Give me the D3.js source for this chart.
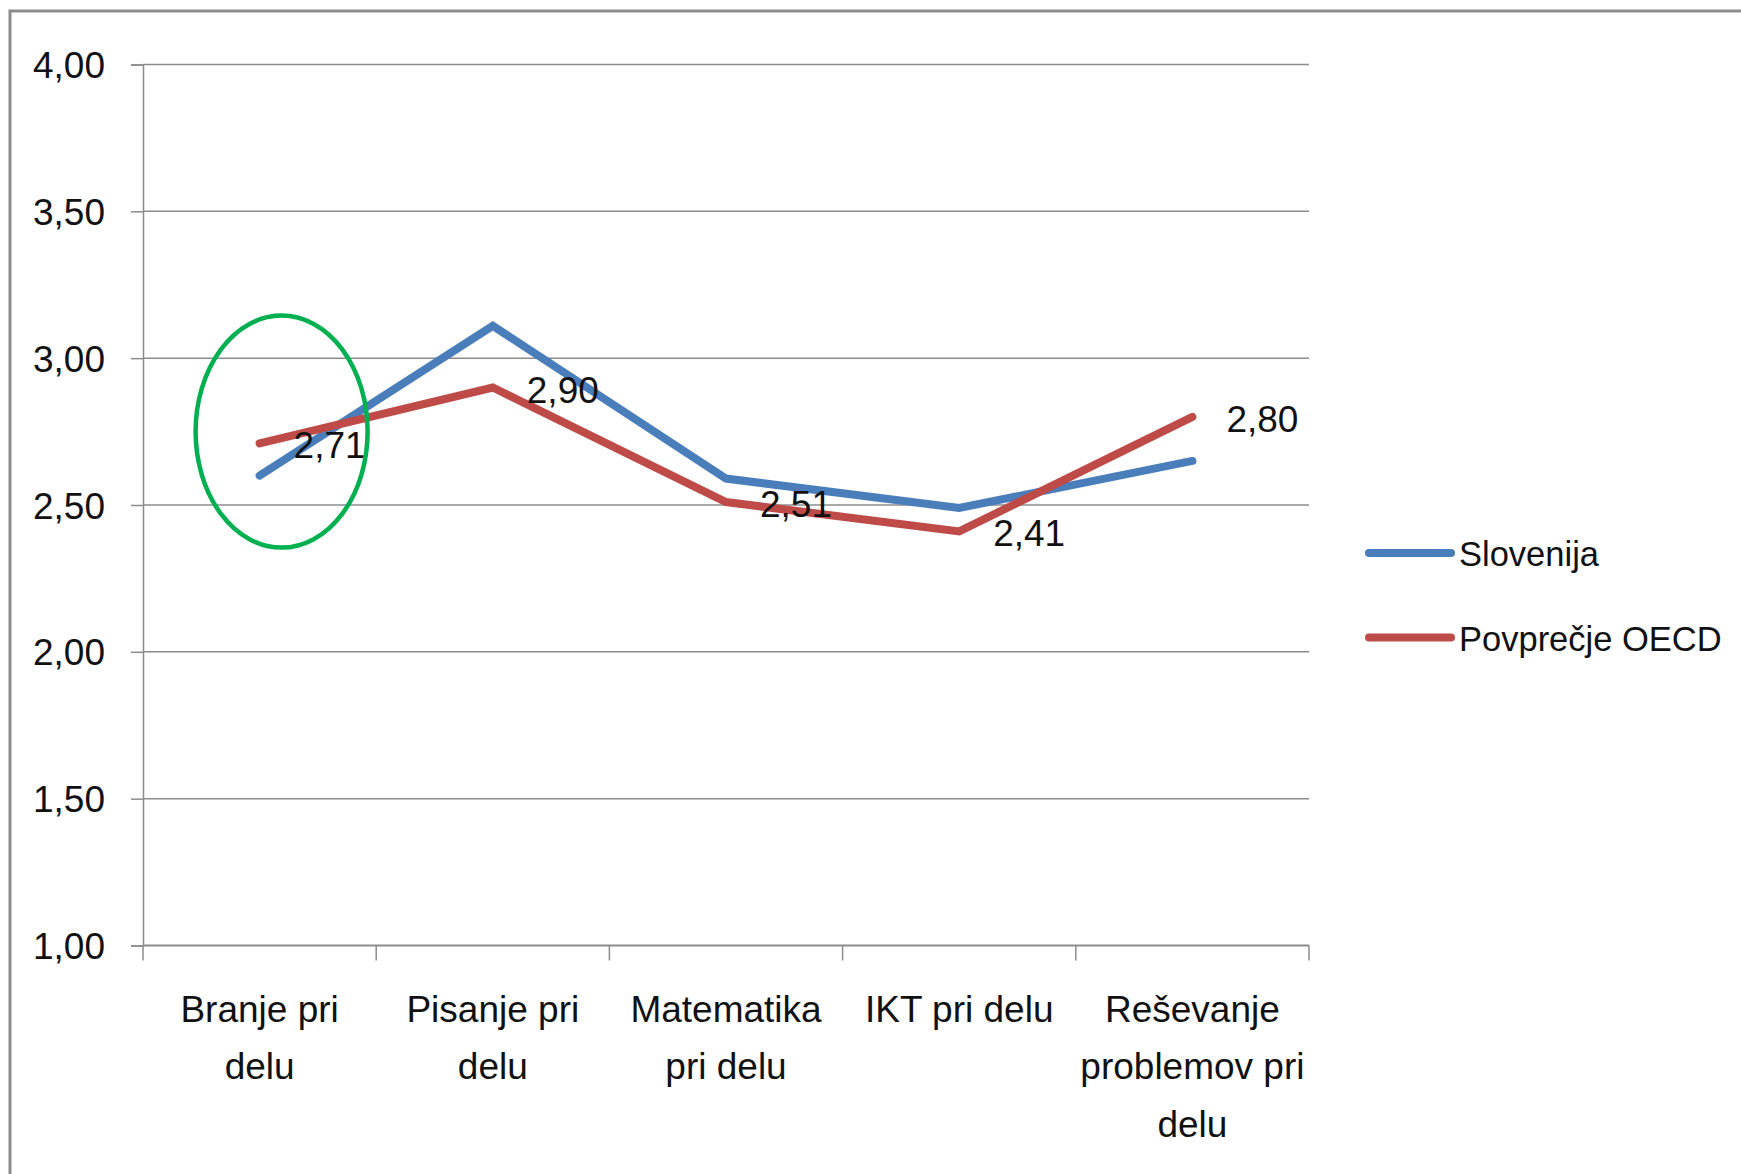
<!DOCTYPE html>
<html>
<head>
<meta charset="utf-8">
<script src="https://cdn.jsdelivr.net/npm/d3@7"></script>
<style>
  body { margin: 0; background: #fff; }
  svg text { font-family: "Liberation Sans", Arial, sans-serif; fill: #111; }
</style>
</head>
<body>
<svg id="chart" width="1741" height="1174"></svg>
<script>
// data
var categories = ["Branje pri delu", "Pisanje pri delu", "Matematika pri delu", "IKT pri delu", "Reševanje problemov pri delu"];
var categoryLines = [["Branje pri", "delu"], ["Pisanje pri", "delu"], ["Matematika", "pri delu"], ["IKT pri delu"], ["Reševanje", "problemov pri", "delu"]];
var slovenija = [2.60, 3.11, 2.59, 2.49, 2.65];
var oecd = [2.71, 2.90, 2.51, 2.41, 2.80];
var seriesNames = ["Slovenija", "Povprečje OECD"];
var yTicks = [1.00, 1.50, 2.00, 2.50, 3.00, 3.50, 4.00];

var svg = d3.select("#chart");
var fontSize = 37;

var locale = d3.formatLocale({ decimal: ",", thousands: ".", grouping: [3], currency: ["", " €"] });
var fmt = locale.format(".2f");

var plotLeft = 143, plotRight = 1309, plotTop = 64.5, plotBottom = 945.5;

var x = d3.scaleBand().domain(categories).range([plotLeft, plotRight]).padding(0);
var y = d3.scaleLinear().domain([1, 4]).range([plotBottom, plotTop]);

var colors = { "Slovenija": "#4a7ebb", "Povprečje OECD": "#be4b48" };

// outer frame
svg.append("rect")
    .attr("x", 10).attr("y", 11)
    .attr("width", 1800).attr("height", 1300)
    .attr("fill", "none")
    .attr("stroke", "#8c8c8c")
    .attr("stroke-width", 3);

// gridlines
svg.append("g")
    .selectAll("line")
    .data(yTicks)
    .enter().append("line")
    .attr("x1", plotLeft).attr("x2", plotRight)
    .attr("y1", function (d) { return y(d); })
    .attr("y2", function (d) { return y(d); })
    .attr("stroke", "#8c8c8c")
    .attr("stroke-width", function (d) { return d === 1 ? 2.2 : 1.5; });

// y axis
var yAxis = svg.append("g")
    .attr("transform", "translate(" + plotLeft + ",0)")
    .call(d3.axisLeft(y).tickValues(yTicks).tickSize(12).tickFormat(fmt).tickPadding(26));
yAxis.attr("font-family", null).attr("font-size", null);
yAxis.select(".domain").attr("stroke", "#8c8c8c").attr("stroke-width", 1.5);
yAxis.selectAll(".tick line").attr("stroke", "#8c8c8c").attr("stroke-width", 1.5);
yAxis.selectAll(".tick text")
    .attr("font-size", fontSize)
    .attr("dy", null)
    .attr("y", 13)
    .attr("fill", "#111");

// x axis ticks at band edges
var edges = categories.map(function (c) { return x(c); }).concat([plotRight]);
svg.append("g")
    .selectAll("line")
    .data(edges)
    .enter().append("line")
    .attr("x1", function (d) { return d; })
    .attr("x2", function (d) { return d; })
    .attr("y1", plotBottom)
    .attr("y2", plotBottom + 15)
    .attr("stroke", "#8c8c8c")
    .attr("stroke-width", 1.5);

// category labels
var catG = svg.append("g")
    .selectAll("text")
    .data(categories)
    .enter().append("text")
    .attr("text-anchor", "middle")
    .attr("font-size", fontSize)
    .attr("transform", function (d) { return "translate(" + (x(d) + x.bandwidth() / 2) + "," + (plotBottom + 76) + ")"; });
catG.each(function (d, i) {
    var t = d3.select(this);
    categoryLines[i].forEach(function (line, j) {
        t.append("tspan").attr("x", 0).attr("y", j * 57.5).text(line);
    });
});

// lines
var line = d3.line()
    .x(function (d, i) { return x(categories[i]) + x.bandwidth() / 2; })
    .y(function (d) { return y(d); });

[slovenija, oecd].forEach(function (vals, k) {
    svg.append("path")
        .datum(vals)
        .attr("d", line)
        .attr("fill", "none")
        .attr("stroke", colors[seriesNames[k]])
        .attr("stroke-width", 8)
        .attr("stroke-linejoin", "miter")
        .attr("stroke-linecap", "round");
});

// data labels (OECD)
svg.append("g")
    .selectAll("text")
    .data(oecd)
    .enter().append("text")
    .attr("font-size", fontSize)
    .attr("x", function (d, i) { return x(categories[i]) + x.bandwidth() / 2 + 34; })
    .attr("y", function (d) { return y(d) + 15; })
    .text(function (d) { return fmt(d); });

// green highlight ellipse around first category
var cx0 = x(categories[0]) + x.bandwidth() / 2;
svg.append("ellipse")
    .attr("cx", cx0 + 22)
    .attr("cy", y(2.75))
    .attr("rx", 86)
    .attr("ry", 116)
    .attr("fill", "none")
    .attr("stroke", "#00b050")
    .attr("stroke-width", 4.5);

// legend
var legend = svg.append("g")
    .selectAll("g")
    .data(seriesNames)
    .enter().append("g")
    .attr("transform", function (d, i) { return "translate(1369," + (553 + i * 84.5) + ")"; });
legend.append("line")
    .attr("x1", 0).attr("x2", 82)
    .attr("stroke", function (d) { return colors[d]; })
    .attr("stroke-width", 8)
    .attr("stroke-linecap", "round");
legend.append("text")
    .attr("x", 90)
    .attr("y", 13)
    .attr("font-size", 34.5)
    .text(function (d) { return d; });
</script>
</body>
</html>
